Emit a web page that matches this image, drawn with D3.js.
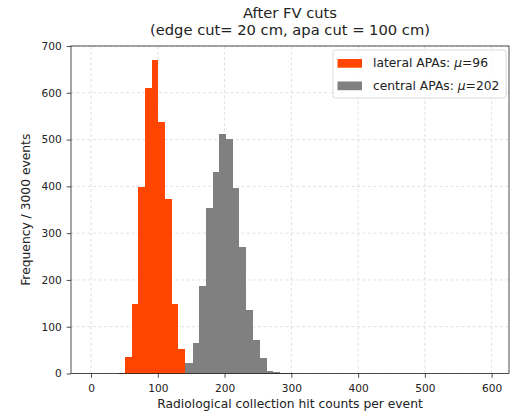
<!DOCTYPE html>
<html>
<head>
<meta charset="utf-8">
<script src="https://cdn.jsdelivr.net/npm/d3@7"></script>
<style>
  body { margin: 0; background: #fff; }
  text { font-family: "DejaVu Sans", sans-serif; fill: #222; }
</style>
</head>
<body>
<svg id="chart" width="510" height="412"></svg>
<script>
// Histogram bins (lower edge, upper edge) and counts
const lateralEdges = [41, 51, 61, 71, 81, 91, 101, 111, 121, 131, 141];
const lateralCounts = [2, 36, 149, 399, 611, 670, 538, 374, 149, 53];
const centralEdges = [141, 152, 162, 172, 182, 192, 202, 212, 222, 232, 243, 253, 263, 273, 283, 293, 303];
const centralCounts = [22, 66, 187, 353, 430, 511, 502, 397, 270, 136, 71, 33, 6, 3, 1, 1];
const xTicks = [0, 100, 200, 300, 400, 500, 600];
const yTicks = [0, 100, 200, 300, 400, 500, 600, 700];
const seriesNames = ["lateral APAs: ", "central APAs: "];
const seriesMeans = ["96", "202"];
const seriesColors = ["#ff4500", "#808080"];

const svg = d3.select("#chart");
const L = 71, R = 509, T = 46, B = 373.5;
const x = d3.scaleLinear().domain([-30, 626]).range([L, R]);
const y = d3.scaleLinear().domain([0, 700]).range([B, T]);

// grid
const grid = svg.append("g");
grid.selectAll("line.gx").data(xTicks).enter().append("line")
  .attr("x1", d => x(d)).attr("x2", d => x(d)).attr("y1", T).attr("y2", B)
  .attr("stroke", "#d9d9d9").attr("stroke-width", 0.8).attr("stroke-dasharray", "3,2.5");
grid.selectAll("line.gy").data(yTicks).enter().append("line")
  .attr("x1", L).attr("x2", R).attr("y1", d => y(d)).attr("y2", d => y(d))
  .attr("stroke", "#d9d9d9").attr("stroke-width", 0.8).attr("stroke-dasharray", "3,2.5");

function bins(edges, counts) {
  return counts.map((c, i) => ({x0: edges[i], x1: edges[i + 1], c}));
}
// central (gray) first, lateral on top
svg.append("g").selectAll("rect").data(bins(centralEdges, centralCounts)).enter().append("rect")
  .attr("x", d => x(d.x0)).attr("width", d => x(d.x1) - x(d.x0))
  .attr("y", d => y(d.c)).attr("height", d => B - y(d.c))
  .attr("fill", seriesColors[1]).attr("shape-rendering", "crispEdges");
svg.append("g").selectAll("rect").data(bins(lateralEdges, lateralCounts)).enter().append("rect")
  .attr("x", d => x(d.x0)).attr("width", d => x(d.x1) - x(d.x0))
  .attr("y", d => y(d.c)).attr("height", d => B - y(d.c))
  .attr("fill", seriesColors[0]).attr("shape-rendering", "crispEdges");

// axes
const xAxis = d3.axisBottom(x).tickValues(xTicks).tickSize(4.3).tickPadding(6.3);
const yAxis = d3.axisLeft(y).tickValues(yTicks).tickSize(4.3).tickPadding(5);
const gx = svg.append("g").attr("transform", `translate(0,${B})`).call(xAxis);
const gy = svg.append("g").attr("transform", `translate(${L},0)`).call(yAxis);
[gx, gy].forEach(g => {
  g.select(".domain").remove();
  g.selectAll("text").style("font-family", "DejaVu Sans").style("font-size", "10.6px").attr("fill", "#222");
  g.selectAll("line").attr("stroke", "#222").attr("stroke-width", 0.8);
});
// frame
svg.append("rect").attr("x", L).attr("y", T).attr("width", R - L).attr("height", B - T)
  .attr("fill", "none").attr("stroke", "#222").attr("stroke-width", 0.8);

// titles
const cx = (L + R) / 2;
svg.append("text").attr("x", cx).attr("y", 18).attr("text-anchor", "middle")
  .style("font-size", "14.7px").text("After FV cuts");
svg.append("text").attr("x", cx).attr("y", 35).attr("text-anchor", "middle")
  .style("font-size", "14.7px").text("(edge cut= 20 cm, apa cut = 100 cm)");
svg.append("text").attr("x", cx).attr("y", 407.5).attr("text-anchor", "middle")
  .style("font-size", "12.3px").text("Radiological collection hit counts per event");
svg.append("text").attr("transform", `translate(29.5,${(T + B) / 2}) rotate(-90)`)
  .attr("text-anchor", "middle").style("font-size", "12.3px").text("Frequency / 3000 events");

// legend
const lg = svg.append("g");
lg.append("rect").attr("x", 333).attr("y", 50).attr("width", 173).attr("height", 48)
  .attr("rx", 2.5).attr("fill", "#fff").attr("fill-opacity", 0.8)
  .attr("stroke", "#d0d0d0").attr("stroke-width", 0.8);
seriesNames.forEach((n, i) => {
  const yy = 59 + i * 22.5;
  lg.append("rect").attr("x", 337.5).attr("y", yy).attr("width", 24.5).attr("height", 8.7)
    .attr("fill", seriesColors[i]);
  const t = lg.append("text").attr("x", 373).attr("y", yy + 8.2).style("font-size", "12.3px");
  t.append("tspan").text(n);
  t.append("tspan").style("font-style", "italic").text("\u03bc");
  t.append("tspan").text("=" + seriesMeans[i]);
});
</script>
</body>
</html>
